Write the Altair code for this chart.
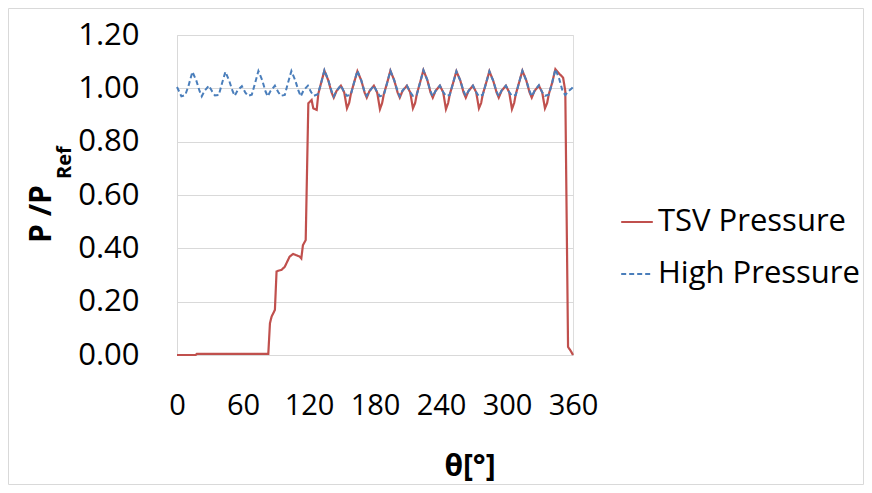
import altair as alt
import pandas as pd

# ---------------- data ----------------
series_names = ["TSV Pressure", "High Pressure"]

high_theta = [
    0, 4, 7.5, 10.5,
    14, 17.5, 20.5, 22.5, 25, 29, 32, 34.5, 38, 41,
    44, 47.5, 50.5, 52.5, 55, 59, 62, 64.5, 68, 71,
    74, 77.5, 80.5, 82.5, 85, 89, 92, 94.5, 98, 101,
    104, 107.5, 110.5, 112.5, 115, 119, 122, 124.5, 128, 131,
    134, 137.5, 140.5, 142.5, 145, 149, 152, 154.5, 158, 161,
    164, 167.5, 170.5, 172.5, 175, 179, 182, 184.5, 188, 191,
    194, 197.5, 200.5, 202.5, 205, 209, 212, 214.5, 218, 221,
    224, 227.5, 230.5, 232.5, 235, 239, 242, 244.5, 248, 251,
    254, 257.5, 260.5, 262.5, 265, 269, 272, 274.5, 278, 281,
    284, 287.5, 290.5, 292.5, 295, 299, 302, 304.5, 308, 311,
    314, 317.5, 320.5, 322.5, 325, 329, 332, 334.5, 338, 341,
    344, 347.5, 350.5, 353, 356, 359, 360,
]
high_value = [
    1.005, 0.970, 0.975, 1.010,
    1.062, 1.030, 0.990, 0.970, 0.990, 1.010, 0.988, 0.973, 0.975, 1.020,
    1.062, 1.028, 0.990, 0.972, 0.992, 1.008, 0.985, 0.972, 0.976, 1.020,
    1.065, 1.030, 0.988, 0.970, 0.990, 1.010, 0.986, 0.972, 0.975, 1.022,
    1.065, 1.030, 0.990, 0.970, 0.992, 1.010, 0.985, 0.972, 0.978, 1.020,
    1.068, 1.032, 0.990, 0.970, 0.990, 1.012, 0.985, 0.972, 0.976, 1.022,
    1.066, 1.030, 0.988, 0.972, 0.990, 1.010, 0.986, 0.970, 0.975, 1.020,
    1.066, 1.030, 0.990, 0.970, 0.992, 1.010, 0.985, 0.972, 0.976, 1.022,
    1.068, 1.032, 0.988, 0.970, 0.990, 1.010, 0.986, 0.972, 0.975, 1.020,
    1.064, 1.030, 0.990, 0.972, 0.990, 1.010, 0.985, 0.970, 0.976, 1.020,
    1.064, 1.028, 0.988, 0.970, 0.992, 1.010, 0.986, 0.972, 0.975, 1.022,
    1.066, 1.030, 0.990, 0.970, 0.990, 1.012, 0.985, 0.972, 0.976, 1.020,
    1.072, 1.035, 0.990, 0.975, 0.990, 1.000, 1.005,
]

tsv_theta = [
    0, 17, 18, 83, 84.5, 86, 89, 90.5, 92, 95, 98, 102.4, 105.5, 111.5, 113,
    114.5, 117, 119.4, 122.4, 123.9, 127, 128.5, 131,
    134, 137.5, 140.5, 142.5, 145, 149, 152, 154.5, 156.5, 158, 161,
    164, 167.5, 170.5, 172.5, 175, 179, 182, 184.5, 186.5, 188, 191,
    194, 197.5, 200.5, 202.5, 205, 209, 212, 214.5, 216.5, 218, 221,
    224, 227.5, 230.5, 232.5, 235, 239, 242, 244.5, 246.5, 248, 251,
    254, 257.5, 260.5, 262.5, 265, 269, 272, 274.5, 276.5, 278, 281,
    284, 287.5, 290.5, 292.5, 295, 299, 302, 304.5, 306.5, 308, 311,
    314, 317.5, 320.5, 322.5, 325, 329, 332, 334.5, 336.5, 338, 341,
    344, 347.5, 351, 353, 355.5, 358, 360,
]
tsv_value = [
    0.000, 0.000, 0.004, 0.004, 0.119, 0.144, 0.169, 0.313, 0.316, 0.319, 0.331, 0.369, 0.379, 0.369, 0.362,
    0.412, 0.431, 0.944, 0.956, 0.925, 0.919, 0.980, 1.020,
    1.066, 1.030, 0.985, 0.965, 0.990, 1.010, 0.985, 0.925, 0.945, 0.978, 1.022,
    1.064, 1.030, 0.985, 0.965, 0.990, 1.010, 0.984, 0.922, 0.945, 0.978, 1.020,
    1.066, 1.030, 0.985, 0.965, 0.990, 1.010, 0.985, 0.925, 0.945, 0.978, 1.022,
    1.068, 1.032, 0.985, 0.965, 0.990, 1.010, 0.985, 0.922, 0.945, 0.978, 1.020,
    1.064, 1.030, 0.985, 0.965, 0.990, 1.010, 0.985, 0.925, 0.945, 0.978, 1.020,
    1.064, 1.028, 0.985, 0.965, 0.990, 1.010, 0.985, 0.922, 0.945, 0.978, 1.022,
    1.066, 1.030, 0.985, 0.965, 0.990, 1.010, 0.985, 0.925, 0.945, 0.978, 1.020,
    1.072, 1.055, 1.040, 0.990, 0.030, 0.015, 0.000,
]

x_ticks = [0, 60, 120, 180, 240, 300, 360]
y_ticks = [0.0, 0.2, 0.4, 0.6, 0.8, 1.0, 1.2]

# ---------------- build tables ----------------
df_tsv = pd.DataFrame({"theta": tsv_theta, "p": tsv_value, "series": series_names[0]})
df_high = pd.DataFrame({"theta": high_theta, "p": high_value, "series": series_names[1]})

RED = "#c0504d"
BLUE = "#4a7ebb"
GRID = "#d9d9d9"
FONT = "Open Sans"

W, H = 396, 320

x_enc = alt.X("theta:Q",
              scale=alt.Scale(domain=[0, 360], nice=False),
              axis=alt.Axis(values=x_ticks, title=None, grid=False, ticks=False,
                            domainColor=GRID, labelFontSize=29, labelPadding=36,
                            labelOverlap=False, labelFlush=False,
                            labelColor="black", labelFont=FONT))
y_enc = alt.Y("p:Q",
              scale=alt.Scale(domain=[0, 1.2], nice=False),
              axis=alt.Axis(values=y_ticks, format=".2f", title=None, grid=True,
                            gridColor=GRID, ticks=False, domainColor=GRID,
                            labelFontSize=31, labelPadding=38, labelColor="black",
                            labelFont=FONT))
legend_cfg = dict(title=None, orient="none", legendX=443, legendY=170,
                  symbolType="stroke", symbolSize=1000, symbolStrokeWidth=2,
                  labelFontSize=31, labelFont=FONT, labelColor="black",
                  labelLimit=0, rowPadding=20, labelOffset=4)
color_enc = alt.Color("series:N",
                      scale=alt.Scale(domain=series_names, range=[RED, BLUE]),
                      legend=alt.Legend(**legend_cfg))
dash_enc = alt.StrokeDash("series:N",
                          scale=alt.Scale(domain=series_names, range=[[1, 0], [5, 3]]),
                          legend=alt.Legend(**legend_cfg))

tsv_line = alt.Chart(df_tsv).mark_line(strokeWidth=2.2).encode(
    x=x_enc, y=y_enc, color=color_enc, strokeDash=dash_enc)
high_line = alt.Chart(df_high).mark_line(strokeWidth=2).encode(
    x=x_enc, y=y_enc, color=color_enc, strokeDash=dash_enc)

# axis titles as text marks (y title needs a subscript)
ytitle_main = alt.Chart(pd.DataFrame({"t": ["P /P"]})).mark_text(
    angle=270, align="left", baseline="alphabetic", fontSize=30, fontWeight="bold",
    font=FONT, color="black").encode(x=alt.value(-126), y=alt.value(208), text="t:N")
ytitle_sub = alt.Chart(pd.DataFrame({"t": ["Ref"]})).mark_text(
    angle=270, align="left", baseline="alphabetic", fontSize=20, fontWeight="bold",
    font=FONT, color="black").encode(x=alt.value(-106), y=alt.value(144), text="t:N")
xtitle = alt.Chart(pd.DataFrame({"t": ["θ[°]"]})).mark_text(
    align="center", baseline="alphabetic", fontSize=30, fontWeight="bold",
    font=FONT, color="black").encode(x=alt.value(293), y=alt.value(441), text="t:N")

# outer chart-area border
border = alt.Chart(pd.DataFrame({"a": [0]})).mark_rect(
    fill=None, stroke=GRID, strokeWidth=1).encode(
    x=alt.value(-168.5), x2=alt.value(686.5), y=alt.value(-26.5), y2=alt.value(449.5))

chart = alt.layer(border, tsv_line, high_line, ytitle_main, ytitle_sub, xtitle).properties(
    width=W, height=H,
    autosize=alt.AutoSizeParams(type="none"),
    padding={"left": 169, "top": 27, "right": 291, "bottom": 130},
).configure_view(stroke=None).configure(background="white")

chart.save("out.html", embed_options={"renderer": "svg", "actions": False})
